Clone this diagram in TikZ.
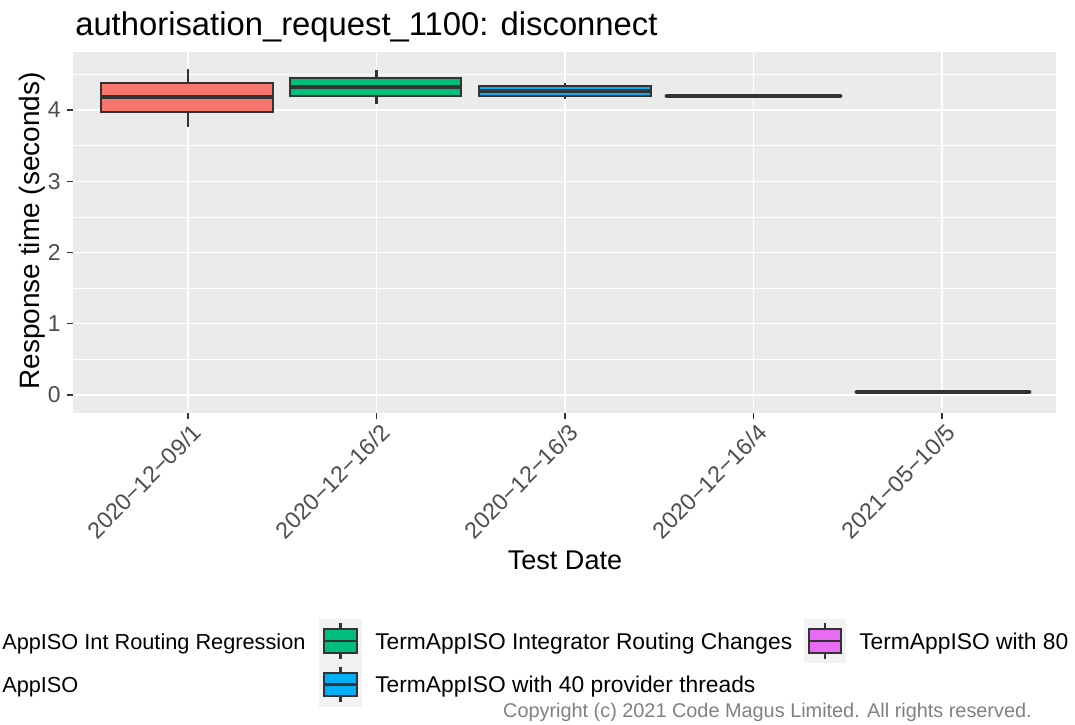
\documentclass[tikz,border=0pt]{standalone}
\usepackage{fontspec}
\setmainfont{Liberation Sans}
\definecolor{panelbg}{HTML}{EBEBEB}
\definecolor{keybg}{HTML}{F2F2F2}
\definecolor{gtwenty}{HTML}{333333}
\definecolor{tickcol}{HTML}{4D4D4D}
\definecolor{copycol}{HTML}{808080}
\definecolor{cred}{HTML}{F8766D}
\definecolor{colive}{HTML}{A3A500}
\definecolor{cgreen}{HTML}{00BF7D}
\definecolor{cblue}{HTML}{00B0F6}
\definecolor{cmag}{HTML}{E76BF3}
\tikzset{
  majorgrid/.style={draw=white, line width=1.1pt},
  minorgrid/.style={draw=white, line width=0.55pt},
  boxout/.style={draw=gtwenty, line width=1.8pt},
  medline/.style={draw=gtwenty, line width=3.6pt},
  whisk/.style={draw=gtwenty, line width=1.8pt},
  tickmark/.style={draw=gtwenty, line width=1.1pt},
  ylab/.style={font=\fontsize{17.2}{20}\selectfont, text=tickcol, inner sep=0pt, anchor=east},
  xlab/.style={font=\fontsize{17.4}{20}\selectfont, text=tickcol, inner sep=0pt, anchor=north east, rotate=45},
  legtext/.style={font=\fontsize{17.1}{20}\selectfont, inner sep=0pt, anchor=base west},
  legtextsmall/.style={font=\fontsize{16.3}{19}\selectfont, inner sep=0pt, anchor=base west},
  keyout/.style={draw=gtwenty, line width=1.8pt},
}
\begin{document}
\begin{tikzpicture}[x=0.75pt,y=-0.75pt]
\useasboundingbox (0,0) rectangle (1075,725);
\clip (0,0) rectangle (1075,725);
% panel
\fill[panelbg] (73,52) rectangle (1056,413);
\foreach \v in {0.5,1.5,2.5,3.5,4.5}
  \draw[minorgrid] (73,{395-71.25*\v}) -- (1056,{395-71.25*\v});
\foreach \v in {0,1,2,3,4}
  \draw[majorgrid] (73,{395-71.25*\v}) -- (1056,{395-71.25*\v});
\foreach \x in {188,376.5,565,753.5,942}
  \draw[majorgrid] (\x,52) -- (\x,413);
% box 1
\draw[whisk] (188,69) -- (188,127);
\filldraw[boxout, fill=cred] (101,83) rectangle (273,112);
\draw[medline] (101,97) -- (273,97);
% box 2
\draw[whisk] (376.5,70) -- (376.5,104);
\filldraw[boxout, fill=cgreen] (290,78) rectangle (461,96);
\draw[medline] (290,87) -- (461,87);
% box 3
\draw[whisk] (565,83) -- (565,99);
\filldraw[boxout, fill=cblue] (479,86) rectangle (651,96);
\draw[medline] (479,91) -- (651,91);
% box 4
\filldraw[boxout, fill=cmag, line cap=round] (667,96) rectangle (840,96);
\draw[medline, line cap=round] (667,96) -- (840,96);
% box 5
\filldraw[boxout, fill=colive, line cap=round] (857,392) rectangle (1029,392);
\draw[medline, line cap=round] (857,392) -- (1029,392);
% y ticks
\foreach \v in {0,1,2,3,4} {
  \draw[tickmark] (67,{395-71.25*\v}) -- (73,{395-71.25*\v});
  \node[ylab] (yl\v) at (61,{395-71.25*\v}) {\v};
}
% x ticks
\foreach \x in {188,376.5,565,753.5,942}
  \draw[tickmark] (\x,413) -- (\x,419);
\node[xlab] (xl1) at (191,422) {2020−12−09/1};
\node[xlab] (xl2) at (379.5,422) {2020−12−16/2};
\node[xlab] (xl3) at (568,422) {2020−12−16/3};
\node[xlab] (xl4) at (756.5,422) {2020−12−16/4};
\node[xlab] (xl5) at (945,422) {2021−05−10/5};
% titles
\node[font=\fontsize{24.6}{28}\selectfont, inner sep=0pt, anchor=base west] (title) at (75,35) {authorisation\_request\_1100: disconnect};
\node[font=\fontsize{20.3}{24}\selectfont, inner sep=0pt, anchor=base] (xtitle) at (565,569) {Test Date};
\node[font=\fontsize{21}{24}\selectfont, inner sep=0pt, anchor=base, rotate=90] (ytitle) at (39,231) {Response time (seconds)};
% legend keys
\fill[keybg] (319,619) rectangle (362,663);
\draw[whisk] (340.5,623) -- (340.5,659);
\filldraw[keyout, fill=cgreen] (324,629) rectangle (357,653);
\draw[keyout] (324,641) -- (357,641);
\fill[keybg] (319,663) rectangle (362,707);
\draw[whisk] (340.5,667) -- (340.5,702);
\filldraw[keyout, fill=cblue] (324,673) rectangle (357,696);
\draw[keyout] (324,684.5) -- (357,684.5);
\fill[keybg] (804,619) rectangle (846,663);
\draw[whisk] (825,623) -- (825,659);
\filldraw[keyout, fill=cmag] (809,629) rectangle (841,653);
\draw[keyout] (809,641) -- (841,641);
% legend text
\node[legtextsmall] (lt1) at (2,649) {AppISO Int Routing Regression};
\node[legtextsmall] (lt2) at (2,692) {AppISO};
\node[legtext] (lt3) at (375,649) {TermAppISO Integrator Routing Changes};
\node[legtext] (lt4) at (375,692) {TermAppISO with 40 provider threads};
\node[legtext] (lt5) at (859,649) {TermAppISO with 80};
% copyright
\node[font=\fontsize{14.9}{18}\selectfont, text=copycol, inner sep=0pt, anchor=base east] (copy) at (1032,717) {Copyright (c) 2021 Code Magus Limited. All rights reserved.};
\end{tikzpicture}
\end{document}
